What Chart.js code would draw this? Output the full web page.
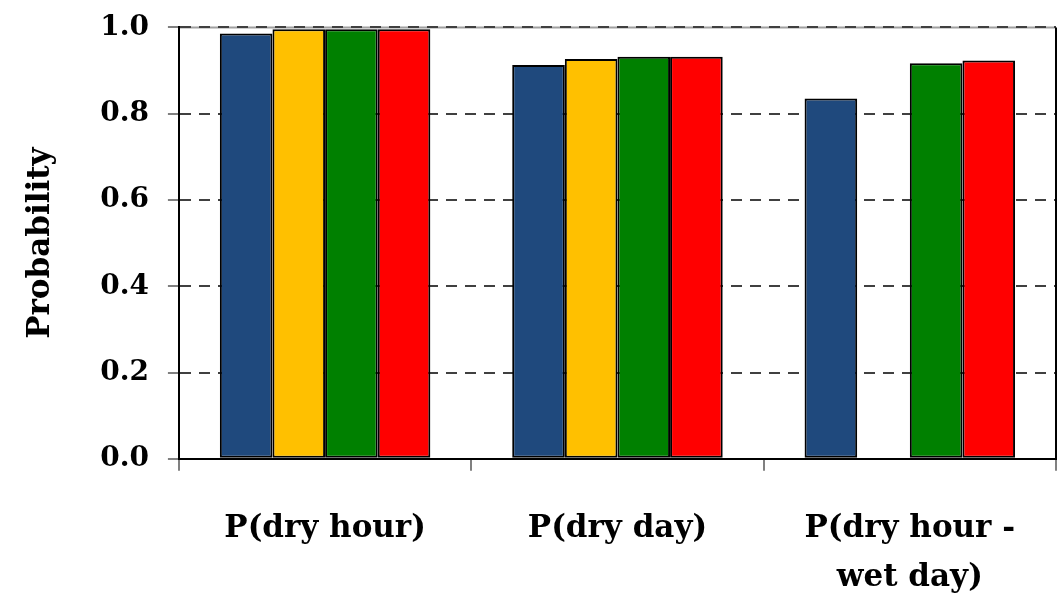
<!DOCTYPE html>
<html>
<head>
<meta charset="utf-8">
<script src="https://cdn.jsdelivr.net/npm/chart.js@4"></script>
<style>
  html, body { margin: 0; padding: 0; background: #fff; }
  #wrap { width: 1061px; height: 599px; }
</style>
</head>
<body>
<div id="wrap"><canvas id="myChart" width="1061" height="599"></canvas></div>
<script>
// categories and values
const categories = [['P(dry hour)'], ['P(dry day)'], ['P(dry hour -', 'wet day)']];
const seriesBlue = [0.986, 0.913, 0.835];
const seriesYellow = [0.996, 0.927, null];
const seriesGreen = [0.996, 0.932, 0.917];
const seriesRed = [0.996, 0.932, 0.923];
const yTicks = [0, 0.2, 0.4, 0.6, 0.8, 1.0];

const tickFont = {
    family: 'DejaVu Serif',
    size: 28,
    weight: 'bold',
    lineHeight: 0.6
};
const labelFont = {
    family: 'DejaVu Serif',
    size: 31,
    weight: 'bold',
    lineHeight: 1.6
};

function makeSet(label, values, color) {
    return {
        label: label,
        data: values,
        backgroundColor: color,
        borderColor: '#000',
        borderWidth: 2,
        borderSkipped: false,
        categoryPercentage: 0.72,
        barPercentage: 1.0
    };
}

// frame of the plot area: light top line, black right line
const frame = {
    id: 'frame',
    beforeDraw(chart) {
        const a = chart.chartArea;
        const ctx = chart.ctx;
        ctx.save();
        ctx.strokeStyle = '#a0a0a0';
        ctx.lineWidth = 2;
        ctx.beginPath();
        ctx.moveTo(a.left, a.top);
        ctx.lineTo(a.right, a.top);
        ctx.stroke();
        ctx.restore();
    },
    afterDraw(chart) {
        const a = chart.chartArea;
        const ctx = chart.ctx;
        ctx.save();
        ctx.strokeStyle = '#000';
        ctx.lineWidth = 2;
        ctx.beginPath();
        ctx.moveTo(a.right, a.top);
        ctx.lineTo(a.right, a.bottom);
        ctx.stroke();
        ctx.restore();
    }
};

new Chart(document.getElementById('myChart'), {
    type: 'bar',
    data: {
        labels: categories,
        datasets: [
            makeSet('Blue', seriesBlue, '#1F497D'),
            makeSet('Yellow', seriesYellow, '#FFC000'),
            makeSet('Green', seriesGreen, '#008000'),
            makeSet('Red', seriesRed, '#FF0000')
        ]
    },
    options: {
        responsive: false,
        animation: false,
        layout: { padding: { top: 0, right: 5, left: 22, bottom: -37 } },
        plugins: {
            legend: { display: false },
            tooltip: { enabled: false }
        },
        scales: {
            x: {
                grid: {
                    offset: true,
                    drawOnChartArea: false,
                    color: '#808080',
                    lineWidth: 2,
                    tickLength: 12
                },
                border: { color: '#000', width: 2 },
                ticks: {
                    color: '#000',
                    font: labelFont,
                    padding: 33,
                    maxRotation: 0,
                    autoSkip: false
                }
            },
            y: {
                min: 0,
                max: 1,
                afterBuildTicks: (axis) => {
                    axis.ticks = yTicks.map(v => ({ value: v }));
                },
                grid: {
                    color: '#404040',
                    lineWidth: 2,
                    tickBorderDash: [],
                    tickColor: '#808080',
                    tickLength: 11
                },
                border: { color: '#000', width: 2, dash: [11, 8] },
                ticks: {
                    color: '#000',
                    font: tickFont,
                    padding: 19,
                    callback: (v) => Number(v).toFixed(1)
                },
                title: {
                    display: true,
                    text: 'Probability',
                    color: '#000',
                    font: { family: 'DejaVu Serif', size: 31, weight: 'bold' },
                    padding: { top: 0, bottom: 22 }
                }
            }
        }
    },
    plugins: [frame]
});
</script>
</body>
</html>
